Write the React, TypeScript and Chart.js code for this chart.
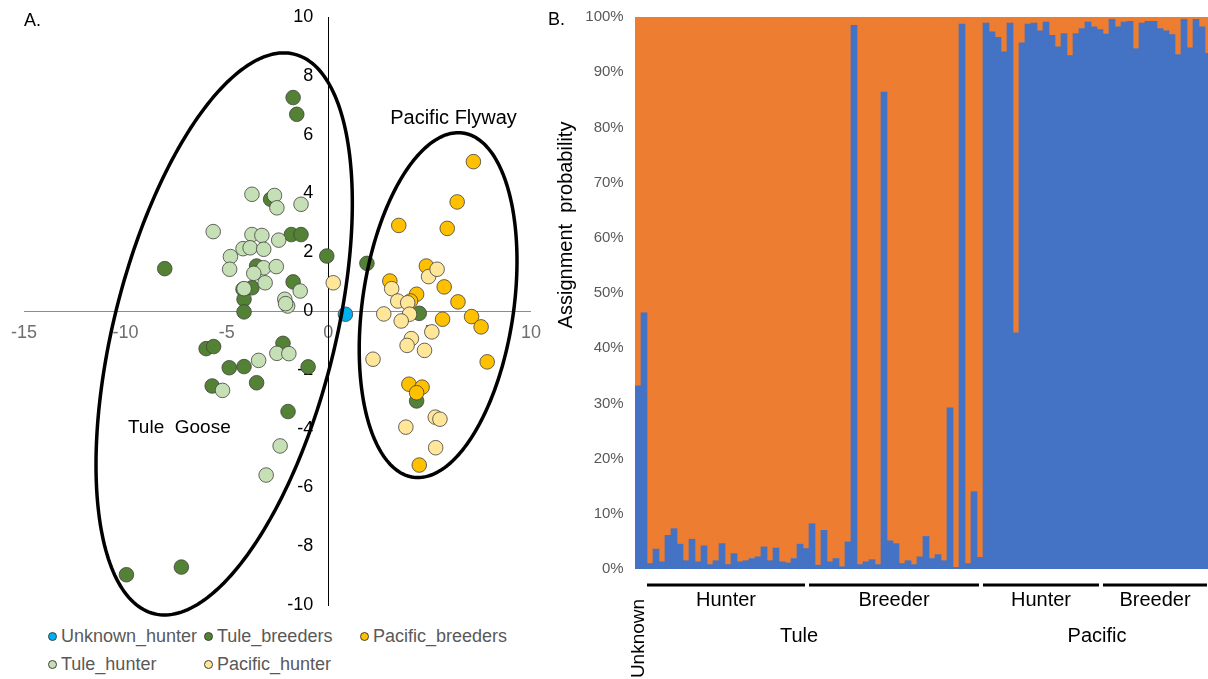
import React, { useEffect, useRef } from "react";
import { Chart, registerables } from "chart.js";
Chart.register(...registerables);

const FONT = "'Liberation Sans', Arial, Helvetica, sans-serif";

// ---------- Panel A: PCA scatter ----------
const unknownHunter = [{ x: 0.85, y: -0.11 }];
const tuleHunter = [
  { x: -3.76, y: 3.97 }, { x: -2.65, y: 3.93 }, { x: -2.53, y: 3.51 }, { x: -1.34, y: 3.63 },
  { x: -5.67, y: 2.7 }, { x: -3.76, y: 2.6 }, { x: -3.27, y: 2.57 }, { x: -2.44, y: 2.41 },
  { x: -4.2, y: 2.12 }, { x: -3.85, y: 2.15 }, { x: -3.18, y: 2.1 }, { x: -4.82, y: 1.85 },
  { x: -4.86, y: 1.42 }, { x: -3.18, y: 1.47 }, { x: -2.56, y: 1.51 }, { x: -3.67, y: 1.28 },
  { x: -3.11, y: 0.96 }, { x: -1.38, y: 0.68 }, { x: -4.15, y: 0.76 }, { x: -2.14, y: 0.4 },
  { x: -2.0, y: 0.17 }, { x: -2.1, y: 0.25 },
  { x: -2.53, y: -1.44 }, { x: -1.94, y: -1.45 }, { x: -3.43, y: -1.68 }, { x: -5.21, y: -2.7 },
  { x: -2.37, y: -4.59 }, { x: -3.06, y: -5.58 },
];
const tuleBreeders = [
  { x: -1.73, y: 7.26 }, { x: -1.55, y: 6.69 }, { x: -8.06, y: 1.44 }, { x: -2.84, y: 3.8 },
  { x: -1.82, y: 2.6 }, { x: -1.34, y: 2.6 }, { x: -0.07, y: 1.87 }, { x: 1.91, y: 1.62 },
  { x: -3.53, y: 1.53 }, { x: -1.73, y: 0.99 }, { x: -3.76, y: 0.79 }, { x: -4.2, y: 0.74 },
  { x: -4.15, y: 0.4 }, { x: -4.15, y: -0.03 }, { x: 4.49, y: -0.08 },
  { x: -6.02, y: -1.28 }, { x: -5.65, y: -1.21 }, { x: -2.23, y: -1.1 }, { x: -4.88, y: -1.93 },
  { x: -4.15, y: -1.89 }, { x: -0.99, y: -1.9 }, { x: -5.72, y: -2.55 }, { x: -3.53, y: -2.44 },
  { x: -1.98, y: -3.42 }, { x: -9.95, y: -8.97 }, { x: -7.24, y: -8.71 }, { x: 4.36, y: -3.06 },
];
const pacificHunter = [
  { x: 0.25, y: 0.96 }, { x: 4.95, y: 1.17 }, { x: 5.37, y: 1.42 }, { x: 3.13, y: 0.76 },
  { x: 3.43, y: 0.34 }, { x: 3.92, y: 0.28 }, { x: 2.74, y: -0.1 }, { x: 4.01, y: -0.11 },
  { x: 3.6, y: -0.34 }, { x: 5.11, y: -0.71 }, { x: 4.1, y: -0.94 }, { x: 3.89, y: -1.17 },
  { x: 4.75, y: -1.34 }, { x: 2.21, y: -1.64 }, { x: 5.28, y: -3.61 }, { x: 5.51, y: -3.68 },
  { x: 3.83, y: -3.95 }, { x: 5.3, y: -4.65 },
];
const pacificBreeders = [
  { x: 7.16, y: 5.08 }, { x: 6.36, y: 3.71 }, { x: 3.48, y: 2.91 }, { x: 5.87, y: 2.81 },
  { x: 4.84, y: 1.53 }, { x: 3.04, y: 1.02 }, { x: 5.72, y: 0.82 }, { x: 4.36, y: 0.57 },
  { x: 4.06, y: 0.34 }, { x: 6.4, y: 0.31 }, { x: 7.07, y: -0.19 }, { x: 7.54, y: -0.54 },
  { x: 5.64, y: -0.28 }, { x: 7.84, y: -1.73 }, { x: 3.98, y: -2.49 }, { x: 4.63, y: -2.59 },
  { x: 4.36, y: -2.78 }, { x: 4.49, y: -5.24 },
];

const seriesNames = ["Unknown_hunter", "Tule_hunter", "Tule_breeders", "Pacific_hunter", "Pacific_breeders"];
const seriesColors = ["#00B0F0", "#C5E0B4", "#548235", "#FFE699", "#FFC000"];
const seriesData = [unknownHunter, tuleHunter, tuleBreeders, pacificHunter, pacificBreeders];
const seriesDrawOrder = [0, 2, 4, 1, 3]; // lower = drawn on top

const xTickStep = 5;
const yTickStep = 2;

// group ellipses (data units: centre and two conjugate half-axes)
const groupEllipses = [
  { name: "Tule  Goose", cx: -5.13, cy: -0.78, ax: 6.32, ay: 4.45, bx: 0, by: -8.46, lx: -7.34, ly: -4.14, size: 19 },
  { name: "Pacific Flyway", cx: 5.42, cy: 0.2, ax: 3.89, ay: 1.5, bx: 0, by: -5.67, lx: 6.18, ly: 6.36, size: 20 },
];

// ---------- Panel B: assignment probabilities (%) ----------
const pacificAssignTuleSide = [
  33.2, 46.4, 1.0, 3.6, 1.3, 6.1, 7.3, 4.5, 1.5, 5.4, 1.3, 4.2, 0.8, 1.5, 4.6, 0.8, 2.8, 1.3, 1.5, 1.9,
  2.2, 4.0, 1.5, 3.8, 1.3, 1.1, 1.9, 4.5, 3.7, 8.2, 0.7, 7.0, 1.3, 1.9, 0.4, 4.9, 98.5, 0.8, 1.3, 1.7,
  0.8, 86.4, 5.1, 4.6, 1.0, 1.5, 0.8, 2.2, 5.9, 1.9, 2.6, 1.5, 29.2, 0.3, 98.7, 1.0, 14.0, 2.1,
];
const pacificAssignPacificSide = [
  98.9, 97.3, 96.3, 93.7, 98.9, 42.8, 95.3, 98.7, 98.9, 97.5, 99.1, 96.7, 94.6, 97.0, 93.0, 97.0, 97.9, 99.1, 98.2, 97.7,
  96.9, 99.6, 98.2, 99.1, 99.2, 94.3, 98.9, 99.2, 99.2, 97.9, 97.5, 96.8, 93.2, 99.6, 94.4, 99.6, 98.2, 93.4,
];
const tuleAssignTuleSide = [
  66.8, 53.6, 99.0, 96.4, 98.7, 93.9, 92.7, 95.5, 98.5, 94.6, 98.7, 95.8, 99.2, 98.5, 95.4, 99.2, 97.2, 98.7, 98.5, 98.1,
  97.8, 96.0, 98.5, 96.2, 98.7, 98.9, 98.1, 95.5, 96.3, 91.8, 99.3, 93.0, 98.7, 98.1, 99.6, 95.1, 1.5, 99.2, 98.7, 98.3,
  99.2, 13.6, 94.9, 95.4, 99.0, 98.5, 99.2, 97.8, 94.1, 98.1, 97.4, 98.5, 70.8, 99.7, 1.3, 99.0, 86.0, 97.9,
];
const tuleAssignPacificSide = [
  1.1, 2.7, 3.7, 6.3, 1.1, 57.2, 4.7, 1.3, 1.1, 2.5, 0.9, 3.3, 5.4, 3.0, 7.0, 3.0, 2.1, 0.9, 1.8, 2.3,
  3.1, 0.4, 1.8, 0.9, 0.8, 5.7, 1.1, 0.8, 0.8, 2.1, 2.5, 3.2, 6.8, 0.4, 5.6, 0.4, 1.8, 6.6,
];
const pacificAssign = [...pacificAssignTuleSide, ...pacificAssignPacificSide];
const tuleAssign = [...tuleAssignTuleSide, ...tuleAssignPacificSide];
const sampleIds = pacificAssign.map((_, i) => `Sample ${i + 1}`);

const sampleGroups = [
  { label: "Hunter", first: 2, last: 28 },
  { label: "Breeder", first: 29, last: 57 },
  { label: "Hunter", first: 58, last: 77 },
  { label: "Breeder", first: 78, last: 95 },
];
const populations = [
  { label: "Tule", first: 2, last: 57 },
  { label: "Pacific", first: 58, last: 95 },
];
const unknownGroup = { label: "Unknown", first: 0, last: 1 };
const yPercentStep = 10;

const scatterAnnotations = {
  id: "scatterAnnotations",
  afterDraw(chart: any) {
    const { ctx } = chart;
    const xs = chart.scales.x;
    const ys = chart.scales.y;
    ctx.save();
    groupEllipses.forEach((e) => {
      ctx.beginPath();
      const n = 240;
      for (let k = 0; k <= n; k++) {
        const t = (k / n) * Math.PI * 2;
        const dx = e.cx + Math.cos(t) * e.ax + Math.sin(t) * e.bx;
        const dy = e.cy + Math.cos(t) * e.ay + Math.sin(t) * e.by;
        const px = xs.getPixelForValue(dx);
        const py = ys.getPixelForValue(dy);
        if (k === 0) ctx.moveTo(px, py);
        else ctx.lineTo(px, py);
      }
      ctx.closePath();
      ctx.lineWidth = 3.5;
      ctx.strokeStyle = "#000";
      ctx.stroke();
      ctx.fillStyle = "#000";
      ctx.font = `${e.size}px ${FONT}`;
      ctx.textAlign = "center";
      ctx.textBaseline = "alphabetic";
      ctx.fillText(e.name, xs.getPixelForValue(e.lx), ys.getPixelForValue(e.ly));
    });
    ctx.font = `18px ${FONT}`;
    ctx.textAlign = "left";
    ctx.textBaseline = "middle";
    ctx.fillStyle = "#000";
    ctx.fillText("A.", 24, 21);
    ctx.restore();
  },
};

const barAnnotations = {
  id: "barAnnotations",
  afterDraw(chart: any) {
    const { ctx } = chart;
    const xs = chart.scales.x;
    const half = (xs.getPixelForValue(1) - xs.getPixelForValue(0)) / 2;
    const L = (i: number) => xs.getPixelForValue(i) - half;
    const R = (i: number) => xs.getPixelForValue(i) + half;
    ctx.save();
    ctx.fillStyle = "#000";
    ctx.textAlign = "center";
    ctx.textBaseline = "alphabetic";
    ctx.font = `20px ${FONT}`;
    sampleGroups.forEach((g) => {
      const x1 = L(g.first);
      const x2 = R(g.last) - 4;
      ctx.fillRect(x1, 583.5, x2 - x1, 3);
      ctx.fillText(g.label, (x1 + x2) / 2, 606);
    });
    const popNudge = [-16, 0];
    populations.forEach((p, i) => {
      const cx = (L(p.first) + R(p.last)) / 2 + popNudge[i];
      ctx.fillText(p.label, cx, 642);
    });
    // Unknown (rotated)
    ctx.save();
    ctx.translate((L(unknownGroup.first) + R(unknownGroup.last)) / 2 + 3, 638.5);
    ctx.rotate(-Math.PI / 2);
    ctx.font = `19px ${FONT}`;
    ctx.fillText(unknownGroup.label, 0, 0);
    ctx.restore();
    // axis title
    ctx.save();
    ctx.translate(27, 225);
    ctx.rotate(-Math.PI / 2);
    ctx.font = `20px ${FONT}`;
    ctx.fillText("Assignment  probability", 0, 0);
    ctx.restore();
    ctx.textAlign = "left";
    ctx.textBaseline = "middle";
    ctx.font = `18px ${FONT}`;
    ctx.fillText("B.", 3, 20);
    ctx.restore();
  },
};

export default function App() {
  const leftRef = useRef<HTMLCanvasElement | null>(null);
  const rightRef = useRef<HTMLCanvasElement | null>(null);

  useEffect(() => {
    const left = new Chart(leftRef.current as HTMLCanvasElement, {
      type: "scatter",
      data: {
        datasets: seriesNames.map((name, i) => ({
          label: name,
          data: seriesData[i],
          backgroundColor: seriesColors[i],
          borderColor: "#404040",
          borderWidth: 0.8,
          pointRadius: 7.3,
          pointHoverRadius: 7.3,
          order: seriesDrawOrder[i],
        })),
      },
      options: {
        animation: false,
        responsive: false,
        events: [],
        layout: { padding: { left: 23, right: 13, top: 17, bottom: 15 } },
        plugins: { legend: { display: false }, tooltip: { enabled: false } },
        scales: {
          x: {
            type: "linear",
            min: -15,
            max: 10,
            position: { y: 0 } as any,
            ticks: { stepSize: xTickStep, color: "#6e6e6e", font: { size: 18, family: FONT }, padding: 11, maxRotation: 0 },
            grid: { display: false, drawTicks: false },
            border: { display: true, color: "#8c8c8c", width: 1 },
          },
          y: {
            type: "linear",
            min: -10,
            max: 10,
            position: { x: 0 } as any,
            ticks: {
              stepSize: yTickStep,
              color: "#000",
              font: { size: 18, family: FONT },
              callback: (v: any) => `${v}   `,
            },
            grid: { display: false, drawTicks: false },
            border: { display: true, color: "#000", width: 1 },
          },
        },
      },
      plugins: [scatterAnnotations],
    });

    const right = new Chart(rightRef.current as HTMLCanvasElement, {
      type: "bar",
      data: {
        labels: sampleIds,
        datasets: [
          { label: "Pacific", data: pacificAssign, backgroundColor: "#4472C4", borderWidth: 0, barPercentage: 1, categoryPercentage: 1 },
          { label: "Tule", data: tuleAssign, backgroundColor: "#ED7D31", borderWidth: 0, barPercentage: 1, categoryPercentage: 1 },
        ],
      },
      options: {
        animation: false,
        responsive: false,
        events: [],
        layout: { padding: { left: 0, right: 4, top: 17, bottom: 110 } },
        plugins: { legend: { display: false }, tooltip: { enabled: false } },
        scales: {
          x: { stacked: true, display: false, grid: { display: false } },
          y: {
            stacked: true,
            min: 0,
            max: 100,
            ticks: {
              stepSize: yPercentStep,
              color: "#595959",
              font: { size: 15, family: FONT },
              padding: 3,
              callback: (v: any) => `${v}%  `,
            },
            grid: { display: false, drawTicks: false },
            border: { display: false },
            afterFit: (s: any) => {
              s.width = 90;
            },
          },
        },
      },
      plugins: [barAnnotations],
    });

    return () => {
      left.destroy();
      right.destroy();
    };
  }, []);

  const legendOrder = [0, 1, 2, 3, 4];

  return (
    <div
      style={{
        position: "fixed",
        left: 0,
        top: 0,
        width: 1208,
        height: 679,
        overflow: "hidden",
        background: "#fff",
        fontFamily: FONT,
      }}
    >
      <canvas ref={leftRef} width={552} height={620} style={{ position: "absolute", left: 0, top: 0 }} />
      <canvas ref={rightRef} width={670} height={679} style={{ position: "absolute", left: 545, top: 0 }} />
      <div
        style={{
          position: "absolute",
          left: 48,
          top: 622,
          display: "grid",
          gridTemplateColumns: "156px 156px 160px",
          gridTemplateRows: "28px 28px",
          gridAutoFlow: "column",
        }}
      >
        {legendOrder.map((i) => (
          <div key={seriesNames[i]} style={{ display: "flex", alignItems: "center", height: 28 }}>
            <span
              style={{
                display: "inline-block",
                width: 9,
                height: 9,
                borderRadius: "50%",
                background: seriesColors[i],
                border: "0.8px solid #404040",
                boxSizing: "border-box",
                marginRight: 4,
              }}
            />
            <span style={{ fontSize: 18, color: "#595959", lineHeight: "28px", whiteSpace: "nowrap" }}>{seriesNames[i]}</span>
          </div>
        ))}
      </div>
    </div>
  );
}
